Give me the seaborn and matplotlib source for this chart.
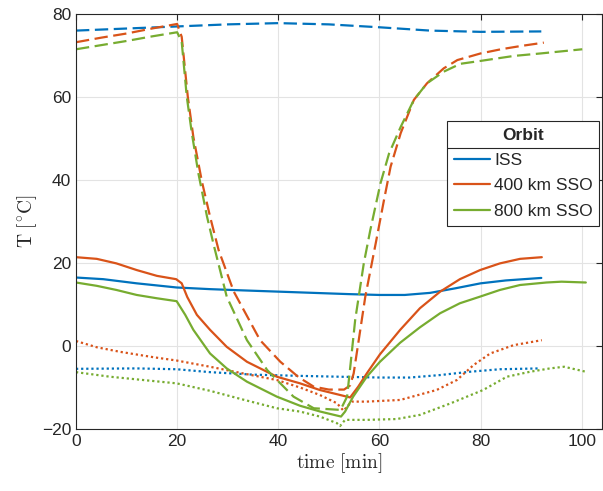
import matplotlib
matplotlib.use("Agg")
import matplotlib.pyplot as plt
from matplotlib.lines import Line2D
import numpy as np
import pandas as pd
import seaborn as sns

##### 데이터
orbits = ['ISS', '400 km SSO', '800 km SSO']
kinds = ['max', 'mean', 'min']

# ISS
iss_max_t = [0, 10, 20, 30, 40, 50, 60, 70, 80, 92]
iss_max_T = [76.0, 76.5, 77.0, 77.5, 77.8, 77.5, 76.8, 76.0, 75.7, 75.8]
iss_mean_t = [0, 5.4, 12, 19.9, 26.5, 33, 40, 47, 54, 60, 65, 70, 75, 80, 85, 92]
iss_mean_T = [16.5, 16.1, 15.1, 14.1, 13.7, 13.4, 13.1, 12.8, 12.5, 12.3, 12.3, 12.8, 13.9, 15.1, 15.8, 16.4]
iss_min_t = [0, 12, 19.9, 26.5, 35, 44.3, 52, 60.1, 66, 72, 77.9, 83.8, 91.7]
iss_min_T = [-5.5, -5.4, -5.6, -6.3, -6.9, -7.2, -7.4, -7.6, -7.6, -7.0, -6.2, -5.6, -5.4]

# 400 km SSO
s4_max_t = [0, 5, 10, 15, 20, 20.9, 22.1, 23.2, 24.9, 26.5, 28.2, 31.2, 36.4, 40.4, 44, 47, 50, 53,
            54.2, 54.9, 55.9, 57.2, 59.3, 60.9, 62.2, 64.2, 66.8, 69.4, 72.7, 75.4, 80, 84, 88, 92.5]
s4_max_T = [73.2, 74.3, 75.3, 76.5, 77.6, 74.5, 60.1, 50.4, 39.6, 31.2, 23.1, 13.1, 1.4, -3.8, -7.5, -9.8, -10.5, -10.5,
            -9.5, -6.6, 1.4, 11.9, 25.0, 35.2, 43.2, 51.3, 59.3, 63.3, 66.9, 68.9, 70.5, 71.5, 72.3, 73.1]
s4_mean_t = [0, 4.1, 8, 12, 16, 19.8, 20.9, 22, 23.9, 26.5, 29.8, 33.8, 39.7, 44.3, 48.2, 54.2,
             55.8, 57.5, 60.1, 64.1, 68, 72, 75.9, 79.9, 83.8, 87.8, 92.1]
s4_mean_T = [21.4, 21.0, 19.9, 18.3, 16.9, 16.1, 15.1, 11.8, 7.5, 3.9, -0.2, -3.8, -7.4, -9.0, -10.6, -12.4,
             -9.8, -6.6, -2.0, 3.9, 9.1, 13.1, 16.1, 18.3, 19.9, 21.0, 21.4]
s4_min_t = [0, 4.1, 8.7, 15.3, 19.9, 26.5, 33, 39.7, 44.3, 48.2, 51.6, 52.9, 54.5, 57.5, 64.1,
            71.3, 75.3, 78.6, 81.9, 86.5, 92.1]
s4_min_T = [1.2, -0.3, -1.4, -2.7, -3.5, -5.0, -6.6, -8.2, -10.0, -11.8, -13.8, -15.6, -13.4, -13.4, -13.0,
            -10.6, -8.2, -4.6, -1.8, 0.2, 1.4]

# 800 km SSO
s8_max_t = [0, 5, 10, 15, 20, 20.9, 21.9, 22.9, 24.2, 25.9, 27.2, 29.8, 33.8, 37.8, 43, 47, 52.3,
            53.6, 54.3, 55.2, 56.9, 58.2, 60.2, 61.9, 64.2, 66.8, 69.4, 72.7, 76, 80, 86.6, 91.9, 100.1]
s8_max_T = [71.5, 72.5, 73.5, 74.6, 75.6, 73.3, 60.1, 51.3, 41.6, 31.2, 24.5, 11.9, 1.4, -5.8, -12.2, -15.0, -15.4,
            -12.2, -4.2, 6.3, 19.9, 28.0, 39.2, 46.4, 52.8, 59.3, 63.3, 66.1, 68.0, 68.7, 69.9, 70.5, 71.5]
s8_mean_t = [0, 4.1, 8, 12, 16, 19.9, 21.6, 23.2, 26.5, 29.8, 33.8, 39.7, 44.3, 48.3, 52.4,
             53.2, 54.8, 57.5, 60.1, 64.1, 68, 72, 75.9, 79.9, 83.8, 87.8, 93, 96, 100.8]
s8_mean_T = [15.3, 14.5, 13.5, 12.3, 11.5, 10.8, 7.5, 3.9, -1.8, -5.4, -8.6, -12.2, -14.4, -15.8, -17.0,
             -15.8, -12.2, -7.4, -3.8, 0.8, 4.5, 7.9, 10.3, 11.9, 13.5, 14.7, 15.3, 15.5, 15.3]
s8_min_t = [0, 6.7, 13.3, 19.9, 26.5, 33, 39.7, 44.3, 48.2, 51.6, 52.2, 53.2, 57.5, 63.4, 68, 74.1,
            80.5, 85.2, 89.8, 93.7, 96.5, 100.8]
s8_min_T = [-6.3, -7.4, -8.2, -9.0, -10.8, -12.9, -15.0, -15.8, -17.0, -18.6, -19.3, -17.8, -17.8, -17.6, -16.6, -13.8,
            -10.6, -7.4, -6.2, -5.4, -5.0, -6.2]

series = {
    ('ISS', 'max'): (iss_max_t, iss_max_T),
    ('ISS', 'mean'): (iss_mean_t, iss_mean_T),
    ('ISS', 'min'): (iss_min_t, iss_min_T),
    ('400 km SSO', 'max'): (s4_max_t, s4_max_T),
    ('400 km SSO', 'mean'): (s4_mean_t, s4_mean_T),
    ('400 km SSO', 'min'): (s4_min_t, s4_min_T),
    ('800 km SSO', 'max'): (s8_max_t, s8_max_T),
    ('800 km SSO', 'mean'): (s8_mean_t, s8_mean_T),
    ('800 km SSO', 'min'): (s8_min_t, s8_min_T),
}

rows = []
for (orb, kind), (t, T) in series.items():
    for a, b in zip(t, T):
        rows.append({'time': a, 'T': b, 'orbit': orb, 'kind': kind})
df = pd.DataFrame(rows)

##### 그림
sns.set_style('white')
plt.rcParams['font.family'] = ['Liberation Sans', 'DejaVu Sans']
plt.rcParams['mathtext.fontset'] = 'cm'

colors = {'ISS': '#0072BD', '400 km SSO': '#D95319', '800 km SSO': '#77AC30'}
dashes = {'mean': '', 'max': (6, 2.5), 'min': (1, 1.3)}

fig = plt.figure(figsize=(6.03, 4.91), dpi=100)
ax = fig.add_axes([76 / 603, 62 / 491, 526 / 603, 415 / 491])

sns.lineplot(data=df, x='time', y='T', hue='orbit', style='kind',
             palette=colors, dashes=dashes, estimator=None, sort=False,
             linewidth=1.6, legend=False, ax=ax)

ax.set_xlim(0, 104)
ax.set_ylim(-20, 80)
ax.set_xticks([0, 20, 40, 60, 80, 100])
ax.set_yticks([-20, 0, 20, 40, 60, 80])
ax.grid(True, color='#e3e3e3', linewidth=0.8)
ax.tick_params(direction='in', top=True, right=True, labelsize=12.5,
               colors='#262626', length=4)
for s in ax.spines.values():
    s.set_color('#262626')
    s.set_linewidth(0.8)

ax.set_xlabel(r'$\mathrm{time\ [min]}$', fontsize=14, color='#262626', labelpad=2)
ax.set_ylabel(r'$\mathrm{T\ [^{\circ}C]}$', fontsize=14, color='#262626', labelpad=2)

handles = [Line2D([], [], color=colors[o], lw=1.6) for o in orbits]
leg = ax.legend(handles, orbits, title='Orbit', loc='upper left',
                bbox_to_anchor=(447 / 603, 1 - 121 / 491), bbox_transform=fig.transFigure,
                fontsize=12.5, title_fontproperties={'weight': 'bold', 'size': 12.5},
                frameon=True, fancybox=False, edgecolor='#262626', framealpha=1,
                handlelength=2.05, handletextpad=0.25, borderpad=0.4, labelspacing=0.58,
                borderaxespad=0)
leg.get_frame().set_linewidth(0.8)

# 범례 제목 아래 구분선
fig.canvas.draw()
inv = fig.transFigure.inverted()
bb = leg.get_window_extent().transformed(inv)
tb = leg.get_title().get_window_extent().transformed(inv)
fb = leg.get_texts()[0].get_window_extent().transformed(inv)
ysep = (tb.y0 + fb.y1) / 2
fig.add_artist(Line2D([bb.x0, bb.x1], [ysep, ysep], transform=fig.transFigure,
                      color='#262626', lw=0.8))

fig.savefig('out.png', dpi=100)
